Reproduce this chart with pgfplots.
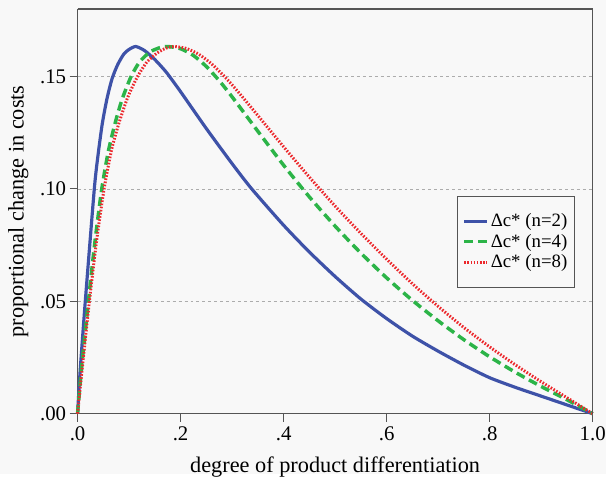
\documentclass[border=0pt]{standalone}
\usepackage{pgfplots}
\pgfplotsset{compat=1.18}
\usepackage{fontspec}
\setmainfont{Liberation Serif}
\usetikzlibrary{backgrounds}

\definecolor{bgc}{RGB}{248,248,248}
\definecolor{axc}{RGB}{85,85,85}
\definecolor{cblue}{RGB}{62,82,168}
\definecolor{cgreen}{RGB}{44,180,72}
\definecolor{cred}{RGB}{236,40,44}

\begin{document}
\begin{tikzpicture}[x=1bp,y=1bp]
\begin{axis}[
    name=ax,
    scale only axis,
    width=518bp, height=407bp,
    xmin=0, xmax=1, ymin=0, ymax=0.18,
    axis line style={axc, line width=1.2pt},
    axis x line*=bottom, axis y line*=left,
    x axis line style={-}, y axis line style={-},
    xtick={0,0.2,0.4,0.6,0.8,1},
    xticklabels={.0,.2,.4,.6,.8,1.0},
    ytick={0,0.05,0.1,0.15},
    yticklabels={.00,.05,.10,.15},
    tick style={axc, line width=1.2pt},
    tick align=outside,
    major tick length=8bp,
    ymajorgrids,
    grid style={gray!65, dashed, line width=0.6pt},
    ticklabel style={font=\fontsize{21}{23}\selectfont},
    xticklabel style={yshift=-2bp},
    xlabel={degree of product differentiation},
    ylabel={proportional change in costs},
    label style={font=\fontsize{22.5}{24}\selectfont},
    xlabel style={yshift=-9bp},
    ylabel style={yshift=5bp},
    legend style={at={(0.965,0.425)}, anchor=east, draw=axc, line width=0.8pt,
        fill=bgc, font=\fontsize{19}{20}\selectfont, inner xsep=5bp, inner ysep=16bp,
        row sep=2bp},
    legend cell align=left,
    legend image code/.code={\draw[#1] (0bp,0bp) -- (23bp,0bp);},
    clip=false,
]
\addplot[cblue, line width=3.2pt, smooth, tension=0.4] coordinates {
(0,0) (0.005,0.019) (0.015,0.05) (0.0325,0.10) (0.04,0.1155) (0.048,0.1290)
(0.057,0.1400) (0.067,0.1490) (0.078,0.1553) (0.09,0.1600) (0.1,0.1620) (0.113,0.1633)
(0.13,0.1615) (0.15,0.1575) (0.17,0.1525) (0.18,0.1495) (0.2,0.1432) (0.25,0.1268)
(0.3,0.1112) (0.338,0.1000) (0.4,0.0838) (0.45,0.0719) (0.5,0.0610) (0.55,0.0510)
(0.6,0.0423) (0.65,0.0345) (0.7,0.0278) (0.75,0.0216) (0.8,0.0160) (0.85,0.0117)
(0.9,0.0078) (0.95,0.0039) (1,0)
};
\addlegendentry{Δc* (n=2)}
\addplot[cgreen, line width=3.5pt, dash pattern=on 9bp off 5bp, smooth, tension=0.4] coordinates {
(0,0) (0.008,0.021) (0.021,0.05) (0.034,0.077) (0.047,0.10) (0.06,0.117)
(0.075,0.131) (0.0875,0.1405) (0.104,0.150) (0.12,0.1563) (0.14,0.1608) (0.16,0.1628)
(0.175,0.1633) (0.2,0.1623) (0.225,0.1593) (0.25,0.1544) (0.275,0.1481) (0.3,0.1409)
(0.35,0.1256) (0.4,0.1105) (0.45,0.0964) (0.5,0.0834) (0.55,0.0714) (0.6,0.0604)
(0.65,0.0504) (0.7,0.0413) (0.75,0.0329) (0.8,0.0253) (0.85,0.0184) (0.9,0.0121)
(0.95,0.0062) (1,0)
};
\addlegendentry{Δc* (n=4)}
\addplot[cred, line width=3pt, dash pattern=on 1.6bp off 1.6bp, smooth, tension=0.4] coordinates {
(0,0) (0.009,0.02) (0.023,0.05) (0.037,0.077) (0.0515,0.10) (0.066,0.1173)
(0.08,0.129) (0.097,0.1405) (0.1165,0.15) (0.135,0.1565) (0.155,0.1605) (0.172,0.1626)
(0.187,0.1633) (0.21,0.1625) (0.235,0.1599) (0.26,0.1556) (0.285,0.1500) (0.31,0.1436)
(0.35,0.1326) (0.4,0.1187) (0.45,0.1052) (0.5,0.0923) (0.55,0.0802) (0.6,0.0687)
(0.65,0.0578) (0.7,0.0477) (0.75,0.0383) (0.8,0.0297) (0.85,0.0217) (0.9,0.0142)
(0.95,0.0071) (1,0)
};
\addlegendentry{Δc* (n=8)}
\end{axis}
\draw[axc, line width=1.2pt] (ax.north west) -- (ax.north east) -- (ax.south east);
\begin{scope}[on background layer]
\fill[bgc] ([xshift=-78bp,yshift=-61bp]ax.south west) rectangle ([xshift=13bp,yshift=9bp]ax.north east);
\end{scope}
\useasboundingbox ([xshift=-78bp,yshift=-61bp]ax.south west) rectangle ([xshift=13bp,yshift=9bp]ax.north east);
\end{tikzpicture}
\end{document}
